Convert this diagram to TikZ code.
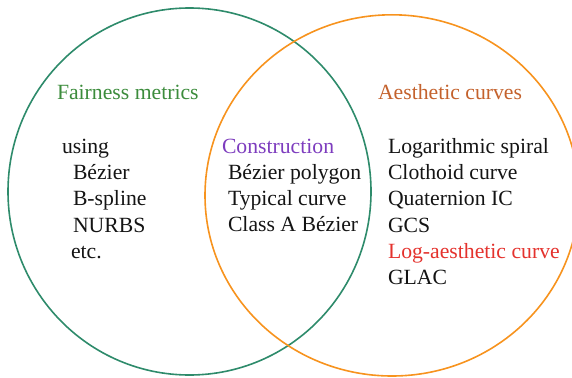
\documentclass[tikz,border=0pt]{standalone}
\usepackage{fontspec}
\setmainfont{Liberation Serif}
\newfontfamily\labelfont{Liberation Serif}
\definecolor{fairgreen}{RGB}{46,139,107}
\definecolor{fairtext}{RGB}{60,140,60}
\definecolor{aesorange}{RGB}{247,147,30}
\definecolor{aestext}{RGB}{196,98,45}
\definecolor{constrpurple}{RGB}{125,60,190}
\definecolor{lacred}{RGB}{228,50,45}
\definecolor{inktext}{RGB}{20,20,20}
\begin{document}
\begin{tikzpicture}[x=1pt,y=-1pt,
  setring/.style={line width=1.6pt},
  item/.style={anchor=base west,inner sep=0pt,outer sep=0pt,text=inktext,
    font=\labelfont\fontsize{21.7}{26}\selectfont},
  heading/.style={item}]
  \useasboundingbox (0,0) rectangle (572,377);
  % the two overlapping sets
  \draw[setring,draw=fairgreen] (189.5,191.5) ellipse [x radius=181.5, y radius=183.5];
  \draw[setring,draw=aesorange] (392,195.4) ellipse [x radius=187, y radius=180.6];
  % set headings
  \node[heading,text=fairtext] (fair) at (57,99.5) {Fairness metrics};
  \node[heading,text=aestext] (aes) at (378,99.5) {Aesthetic curves};
  % left set contents
  \node[item] (using) at (62,153) {using};
  \node[item] (bez) at (73,179) {Bézier};
  \node[item] (bsp) at (73,205.5) {B-spline};
  \node[item] (nurbs) at (73,232) {NURBS};
  \node[item] (etc) at (71,258) {etc.};
  % overlap contents
  \node[item,text=constrpurple] (constr) at (222,153) {Construction};
  \node[item] (bpoly) at (228,179) {Bézier polygon};
  \node[item] (typ) at (228,205) {Typical curve};
  \node[item] (classa) at (228,231) {Class A Bézier};
  % right set contents
  \node[item] (logsp) at (388,153) {Logarithmic spiral};
  \node[item] (cloth) at (388,179) {Clothoid curve};
  \node[item] (quat) at (388,205) {Quaternion IC};
  \node[item] (gcs) at (388,232) {GCS};
  \node[item,text=lacred] (lac) at (388,258) {Log-aesthetic curve};
  \node[item] (glac) at (388,284) {GLAC};
\end{tikzpicture}
\end{document}
